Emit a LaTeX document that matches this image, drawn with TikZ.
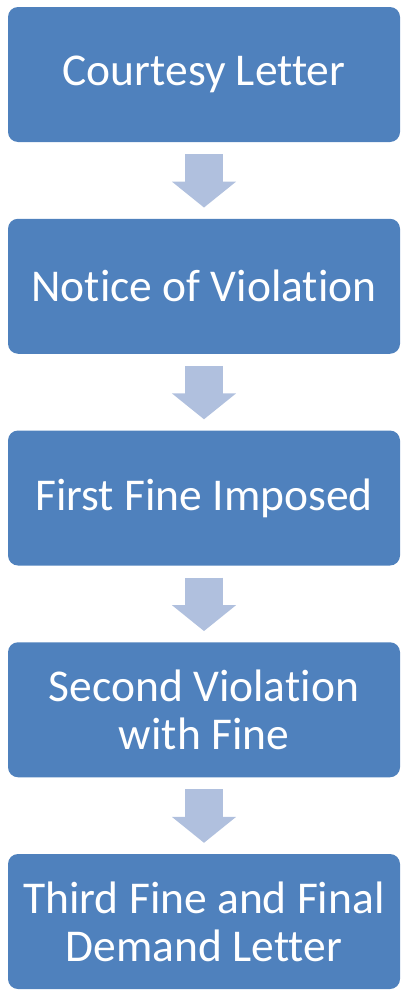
\documentclass[tikz,border=0pt]{standalone}
\usepackage{fontspec}
\setmainfont{Carlito}[Ligatures=NoCommon]
\usepackage{tikz}
\usetikzlibrary{arrows.meta}
\usetikzlibrary{positioning}
\definecolor{boxblue}{RGB}{79,129,189}
\definecolor{arrowblue}{RGB}{176,192,222}
\tikzset{
  % Common styles for the flow chart
  stepbox/.style={rectangle, fill=boxblue, rounded corners=10pt,
    minimum width=392pt, minimum height=135pt, inner sep=0pt,
    text=white, align=center,
    font=\fontsize{45.5}{48}\selectfont},
  blockarrow/.style={draw=arrowblue, line width=38pt,
    -{Triangle[width=63pt,length=26pt]},
    shorten <=12pt, shorten >=11pt}
}

\begin{document}
\begin{tikzpicture}
\useasboundingbox (0,0) rectangle (401pt,-993pt);

% Steps
\node[stepbox] (courtesy) at (204pt,-74.5pt) {Courtesy Letter};
\node[stepbox] (notice) at (204pt,-286.25pt) {Notice of Violation};
\node[stepbox] (firstfine) at (204pt,-498pt) {First Fine Imposed};
\node[stepbox] (secondfine) at (204pt,-709.75pt) {Second Violation\\with Fine};
\node[stepbox] (thirdfine) at (204pt,-921.5pt) {Third Fine and Final\\Demand Letter};

% Arrows
\draw[blockarrow] (courtesy) -- (notice);
\draw[blockarrow] (notice) -- (firstfine);
\draw[blockarrow] (firstfine) -- (secondfine);
\draw[blockarrow] (secondfine) -- (thirdfine);

\end{tikzpicture}
\end{document}
